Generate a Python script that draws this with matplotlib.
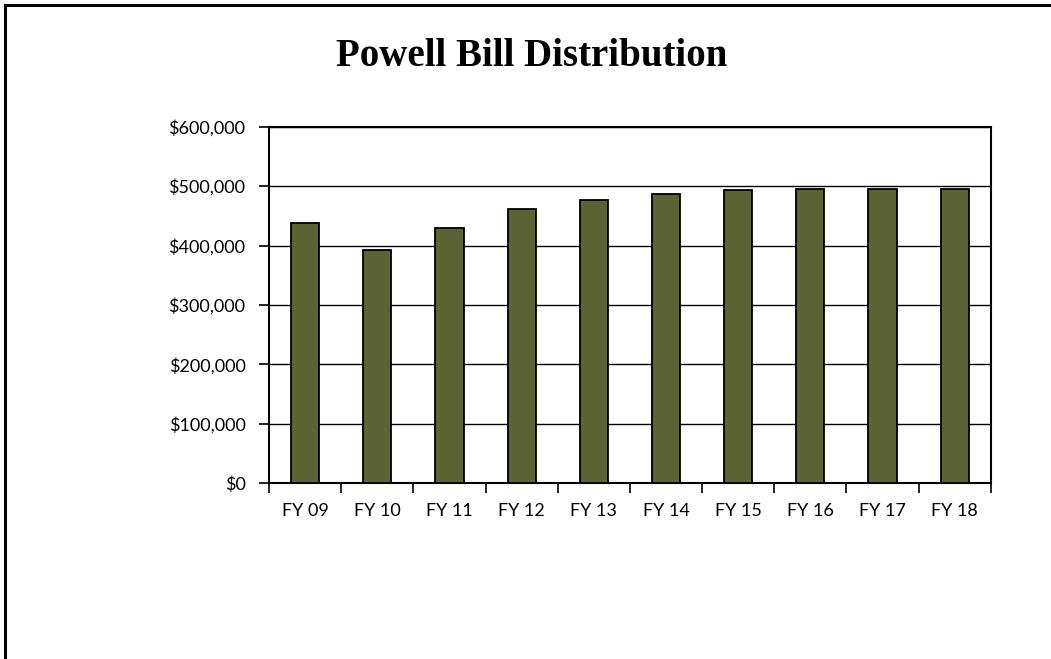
import matplotlib.pyplot as plt
import numpy as np
from matplotlib.lines import Line2D
from matplotlib.ticker import FuncFormatter

# Values
years = ["FY 09", "FY 10", "FY 11", "FY 12", "FY 13",
         "FY 14", "FY 15", "FY 16", "FY 17", "FY 18"]
distribution = [438500, 392000, 429000, 462000, 476000,
                486000, 493000, 496000, 496000, 496000]
y_ticks = [0, 100000, 200000, 300000, 400000, 500000, 600000]

BAR_COLOR = "#5c6434"


def main() -> None:
    fig = plt.figure(figsize=(10.51, 6.59), dpi=100)
    ax = fig.add_axes([0.256, 0.2666, 0.6866, 0.5411])

    positions = np.arange(len(years))
    ax.bar(positions, distribution, width=0.39, color=BAR_COLOR,
           edgecolor="black", linewidth=1.3, zorder=3)

    ax.set_xlim(-0.5, len(years) - 0.5)
    ax.set_ylim(0, 600000)
    ax.set_yticks(y_ticks)
    ax.yaxis.set_major_formatter(FuncFormatter(lambda v, _: f"${v:,.0f}"))
    ax.grid(axis="y", color="black", linewidth=1.0, zorder=1)

    # category ticks sit at the boundaries between bars
    ax.set_xticks(np.arange(len(years) + 1) - 0.5)
    ax.set_xticklabels([])
    ax.set_xticks(positions, minor=True)
    ax.set_xticklabels(years, minor=True)
    ax.tick_params(axis="x", which="major", direction="out", length=7,
                   width=1.2, color="black")
    ax.tick_params(axis="x", which="minor", length=0, pad=14)
    ax.tick_params(axis="y", direction="out", length=7, width=1.2, pad=10)

    for label in ax.get_xticklabels(minor=True) + ax.get_yticklabels():
        label.set_family(["Lato", "DejaVu Sans"])
        label.set_fontsize(13)

    for spine in ax.spines.values():
        spine.set_color("black")
        spine.set_linewidth(1.5)

    fig.text(0.506, 0.914, "Powell Bill Distribution", ha="center",
             va="center", fontsize=28, fontweight="bold",
             family=["Liberation Serif", "DejaVu Serif"])

    # chart-area frame: only the left and top edges are visible
    fig.add_artist(Line2D([0.0048, 0.0048], [0.0, 0.9925], color="black",
                          linewidth=2.2, transform=fig.transFigure))
    fig.add_artist(Line2D([0.0048, 1.0], [0.9925, 0.9925], color="black",
                          linewidth=2.2, transform=fig.transFigure))

    fig.savefig("out.png", dpi=100)


if __name__ == "__main__":
    main()
